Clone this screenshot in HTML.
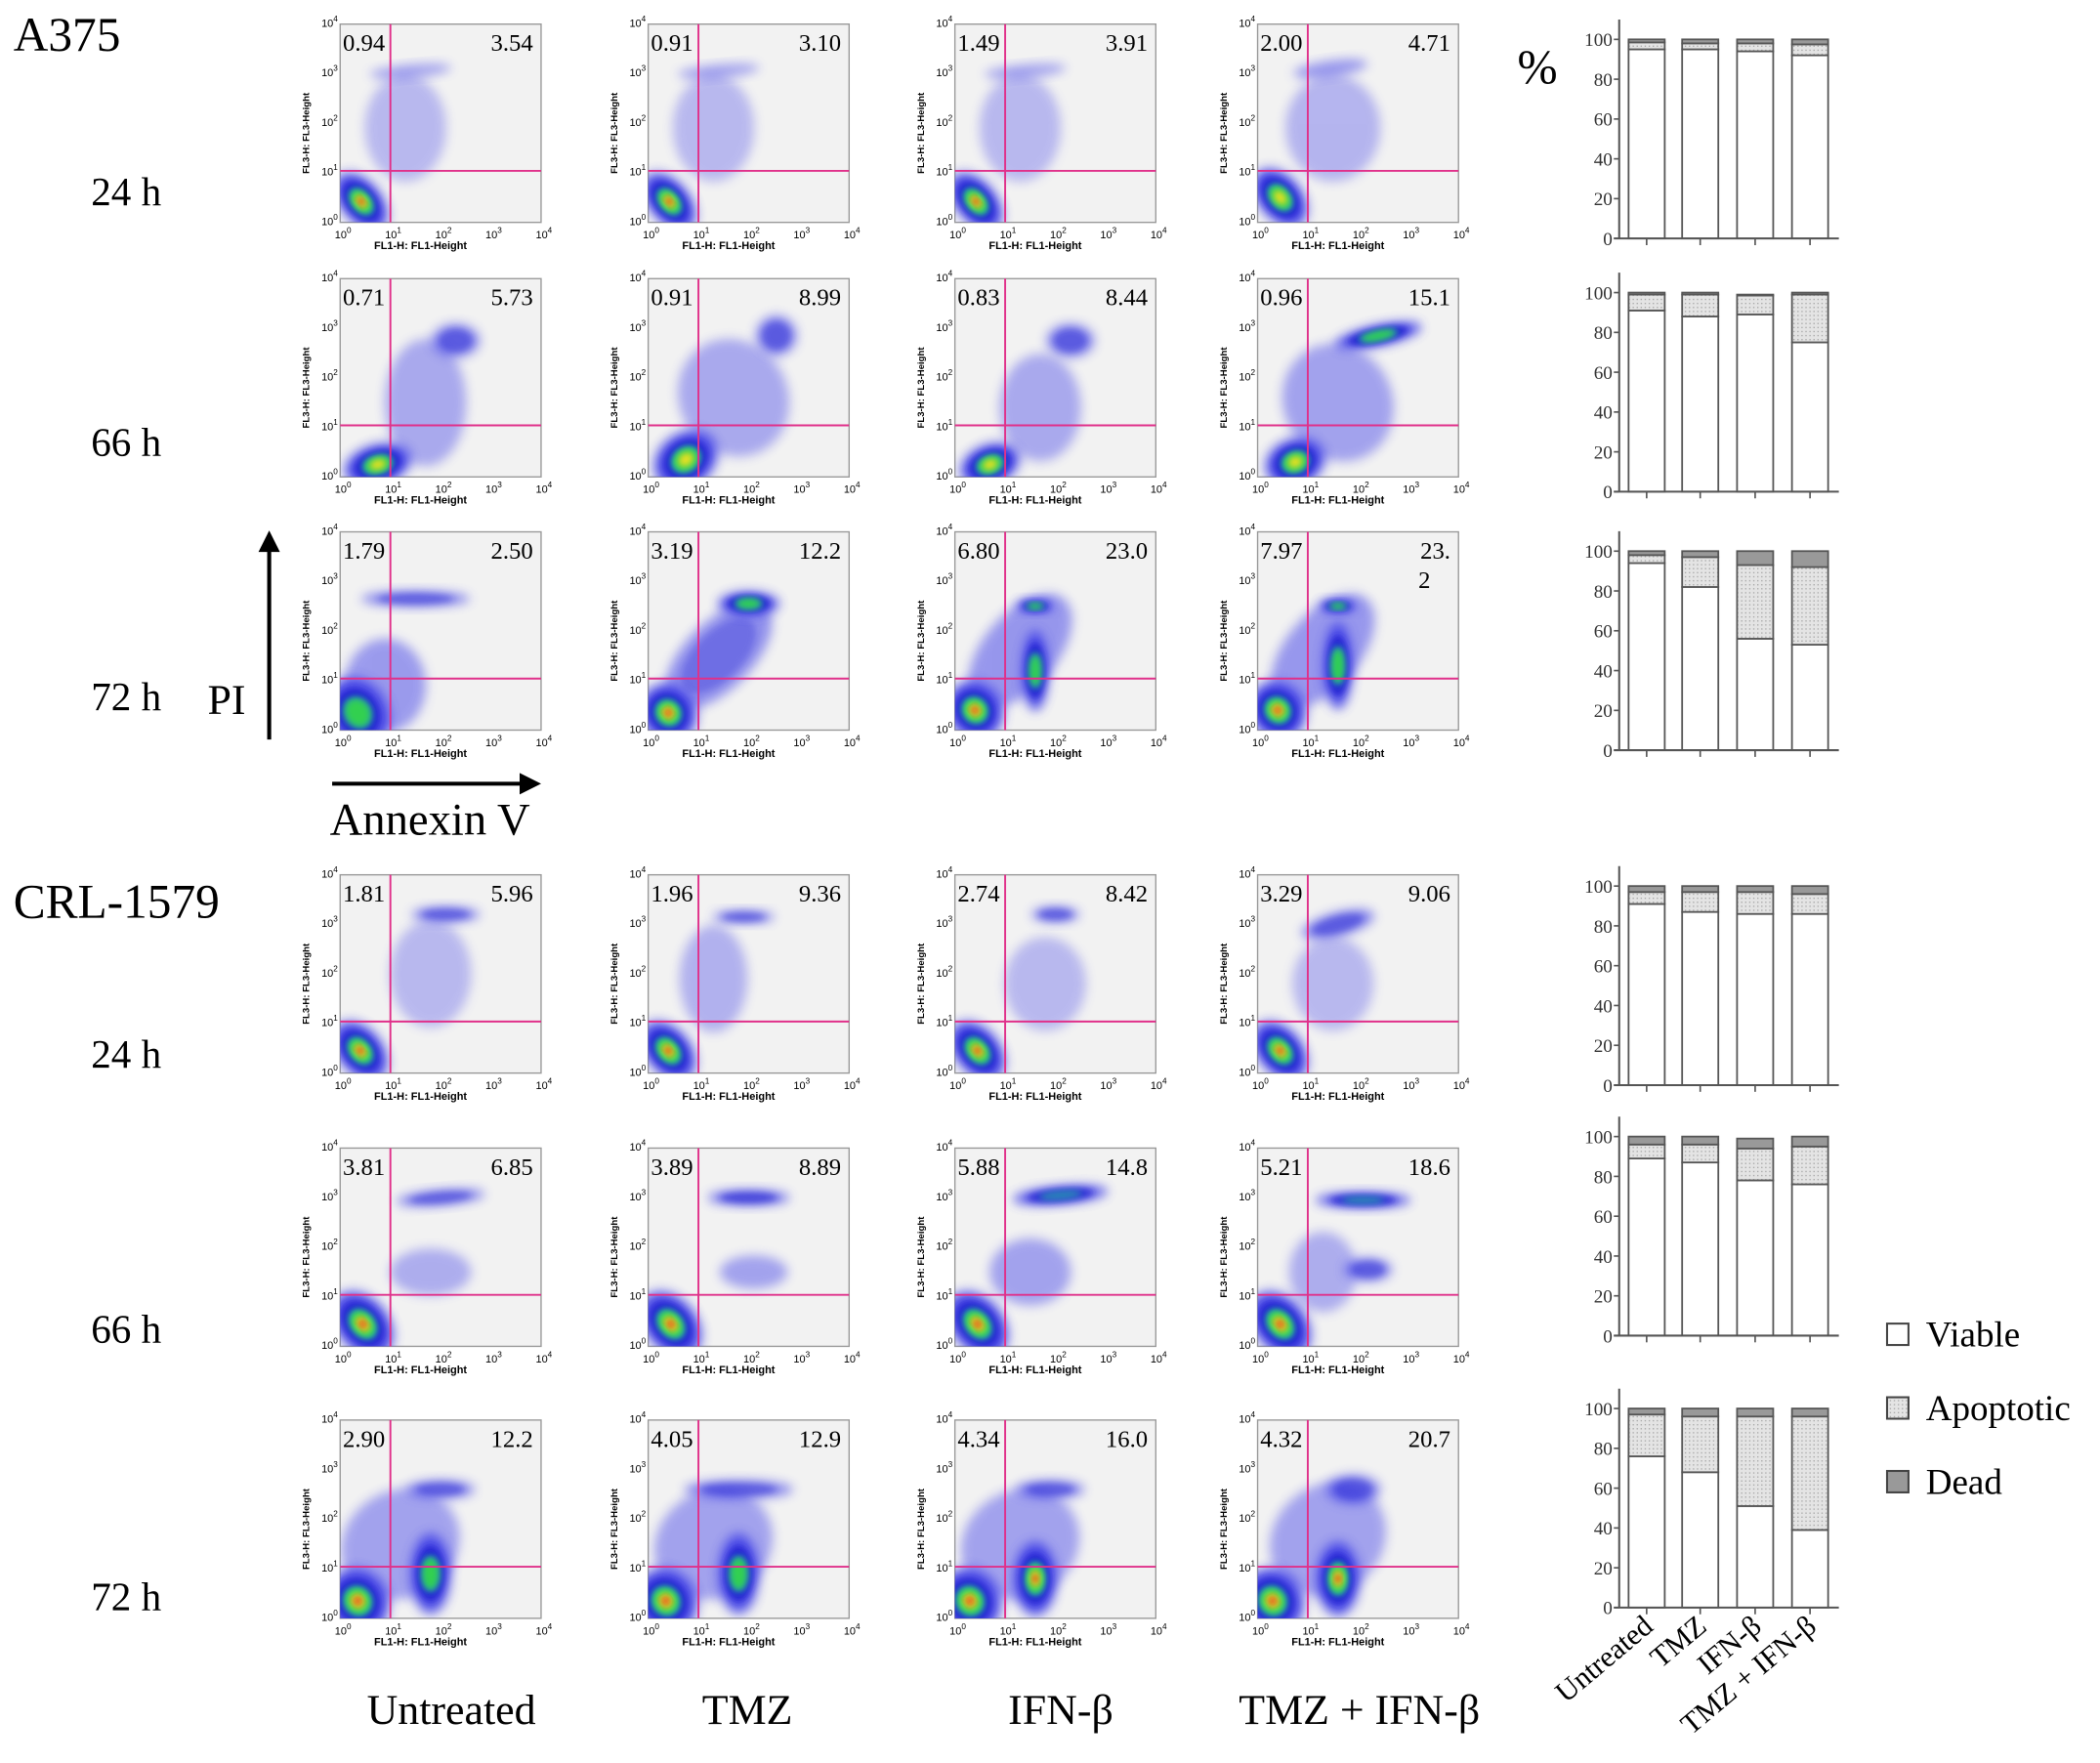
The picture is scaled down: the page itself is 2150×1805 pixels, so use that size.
<!DOCTYPE html>
<html><head><meta charset="utf-8"><style>
html,body{margin:0;padding:0;background:#fff;}
svg{display:block;}
text{font-family:"Liberation Serif",serif;}
.sans{font-family:"Liberation Sans",sans-serif;}
</style></head><body>
<svg id="fig" width="2150" height="1805" viewBox="0 0 1568 1316" preserveAspectRatio="none" xmlns="http://www.w3.org/2000/svg">
<defs>
<filter id="blur" x="-50%" y="-50%" width="200%" height="200%"><feGaussianBlur stdDeviation="2.5"/></filter>
<filter id="blur2" x="-50%" y="-50%" width="200%" height="200%"><feGaussianBlur stdDeviation="4"/></filter>
<pattern id="dots" width="3" height="3" patternUnits="userSpaceOnUse"><rect width="3" height="3" fill="#e4e4e4"/><rect x="1" y="1" width="1" height="1" fill="#aaa"/></pattern>
<clipPath id="clipA"><rect x="0" y="0" width="150" height="148"/></clipPath>
</defs>
<g id="labels">
<text x="10" y="38" font-size="36">A375</text>
<text x="68" y="153" font-size="30">24 h</text>
<text x="68" y="340" font-size="30">66 h</text>
<text x="68" y="530" font-size="30">72 h</text>
<text x="155" y="533" font-size="32">PI</text>
<g><line x1="201" y1="552" x2="201" y2="408" stroke="#000" stroke-width="3"/><polygon points="201,396 193,412 209,412" fill="#000"/></g>
<g><line x1="248" y1="585" x2="392" y2="585" stroke="#000" stroke-width="3"/><polygon points="404,585 388,577 388,593" fill="#000"/></g>
<text x="321" y="623" font-size="34" text-anchor="middle">Annexin V</text>
<text x="10" y="685" font-size="36">CRL-1579</text>
<text x="68" y="797" font-size="30">24 h</text>
<text x="68" y="1002" font-size="30">66 h</text>
<text x="68" y="1202" font-size="30">72 h</text>
<text x="337" y="1287" font-size="32" text-anchor="middle">Untreated</text>
<text x="558" y="1287" font-size="32" text-anchor="middle">TMZ</text>
<text x="792" y="1287" font-size="32" text-anchor="middle">IFN-β</text>
<text x="1015" y="1287" font-size="32" text-anchor="middle">TMZ + IFN-β</text>
<text x="1133" y="62" font-size="36">%</text>
<g>
<rect x="1409" y="988" width="16" height="16" fill="#fff" stroke="#444" stroke-width="1.5"/>
<text x="1438" y="1005" font-size="27">Viable</text>
<rect x="1409" y="1043" width="16" height="16" fill="url(#dots)" stroke="#444" stroke-width="1.5"/>
<text x="1438" y="1060" font-size="27">Apoptotic</text>
<rect x="1409" y="1098" width="16" height="16" fill="#999" stroke="#444" stroke-width="1.5"/>
<text x="1438" y="1115" font-size="27">Dead</text>
</g>
</g>
<g id="plots"></g>
<g id="bars"></g>
</svg>
<script>
const rowTops = [18, 208, 397, 653, 857, 1060];
const colLefts = [254, 484, 713, 939];
const rowNames = ['a375-24h','a375-66h','a375-72h','crl-24h','crl-66h','crl-72h'];
const colNames = ['untreated','tmz','ifn','tmz-ifn'];
const ulValues = [['0.94','0.91','1.49','2.00'],['0.71','0.91','0.83','0.96'],['1.79','3.19','6.80','7.97'],['1.81','1.96','2.74','3.29'],['3.81','3.89','5.88','5.21'],['2.90','4.05','4.34','4.32']];
const urValues = [['3.54','3.10','3.91','4.71'],['5.73','8.99','8.44','15.1'],['2.50','12.2','23.0','23.'],['5.96','9.36','8.42','9.06'],['6.85','8.89','14.8','18.6'],['12.2','12.9','16.0','20.7']];
// clusters: [logX, logY, spreadX, spreadY, angleDeg, level]
const cl24A = [[0.42,0.42,0.3,0.5,-40,4],[1.4,3.05,0.6,0.1,-5,1],[1.3,1.9,0.6,0.8,0,0.4]];
const clusters = [
 [cl24A,cl24A,cl24A,[[0.45,0.5,0.32,0.5,-40,3.5],[1.45,3.1,0.55,0.12,-8,1.3],[1.5,1.9,0.7,0.8,0,0.5]]],
 [[[0.75,0.25,0.5,0.3,-15,3.5],[2.3,2.75,0.35,0.25,0,1.8],[1.7,1.5,0.6,0.95,0,0.8]],
  [[0.75,0.35,0.5,0.4,-35,3.5],[2.55,2.85,0.3,0.3,0,1.8],[1.7,1.6,0.8,0.9,-30,0.8]],
  [[0.7,0.25,0.45,0.3,-20,3.5],[2.3,2.75,0.35,0.25,0,1.8],[1.7,1.4,0.6,0.8,0,0.8]],
  [[0.75,0.3,0.45,0.35,-20,3.5],[2.4,2.85,0.65,0.16,-12,3],[1.6,1.5,0.8,0.9,-30,1]]],
 [[[0.35,0.35,0.45,0.55,-30,3],[1.5,2.65,0.8,0.12,0,1.8],[0.9,0.9,0.6,0.7,0,1.2]],
  [[0.4,0.35,0.4,0.45,-40,4],[1.4,1.5,1.0,0.5,-45,1.5],[2.0,2.55,0.45,0.18,0,3]],
  [[0.4,0.4,0.4,0.45,-40,4],[1.3,1.6,1.0,0.55,-50,1.3],[1.6,1.2,0.2,0.6,0,3],[1.6,2.5,0.28,0.1,0,3]],
  [[0.4,0.4,0.4,0.45,-40,4],[1.3,1.6,1.0,0.55,-50,1.3],[1.6,1.3,0.22,0.65,0,3],[1.6,2.5,0.28,0.1,0,3]]],
 [[[0.4,0.45,0.33,0.5,-40,4],[2.1,3.2,0.5,0.12,0,1.8],[1.8,2.0,0.6,0.8,0,0.4]],
  [[0.4,0.45,0.33,0.5,-40,4],[1.9,3.15,0.45,0.1,0,1.8],[1.3,1.9,0.5,0.8,0,0.6]],
  [[0.45,0.45,0.33,0.5,-40,4],[2.0,3.2,0.35,0.12,0,1.8],[1.8,1.8,0.6,0.7,0,0.4]],
  [[0.45,0.45,0.33,0.5,-40,4],[1.6,3.0,0.55,0.18,-15,1.8],[1.5,1.8,0.6,0.7,0,0.4]]],
 [[[0.45,0.45,0.38,0.55,-40,4],[2.0,3.0,0.65,0.12,-5,1.8],[1.8,1.5,0.6,0.35,0,0.7]],
  [[0.45,0.45,0.38,0.55,-40,4],[2.0,3.0,0.6,0.12,0,2.2],[2.1,1.5,0.5,0.25,0,1]],
  [[0.45,0.45,0.38,0.55,-40,4],[2.1,3.05,0.7,0.14,-5,2.8],[1.5,1.5,0.6,0.5,0,1]],
  [[0.45,0.45,0.38,0.55,-40,4],[2.1,2.95,0.7,0.12,0,2.8],[2.2,1.55,0.35,0.18,0,1.8],[1.3,1.5,0.5,0.6,0,0.7]]],
 [[[0.35,0.35,0.45,0.5,-35,4],[1.8,0.9,0.3,0.6,0,3],[2.0,2.6,0.5,0.14,0,1.8],[1.2,1.5,0.9,0.8,-30,1]],
  [[0.35,0.35,0.45,0.5,-35,4],[1.8,0.9,0.3,0.6,0,3],[1.8,2.6,0.8,0.14,0,1.8],[1.3,1.5,0.9,0.8,-30,1]],
  [[0.3,0.35,0.45,0.5,-30,4],[1.6,0.8,0.32,0.55,0,4],[1.9,2.6,0.5,0.14,0,1.8],[1.3,1.5,0.9,0.8,-30,1]],
  [[0.3,0.35,0.45,0.5,-30,4],[1.6,0.8,0.32,0.55,0,4],[1.9,2.6,0.4,0.22,0,1.8],[1.4,1.6,0.9,0.8,-40,1]]]
];
const tickLabels = ['0','1','2','3','4'];
const W = 150, H = 148, NS = 'http://www.w3.org/2000/svg';
function mk(tag, attrs, parent){const e=document.createElementNS(NS,tag);for(const k in attrs)e.setAttribute(k,attrs[k]);parent.appendChild(e);return e;}
const plots = document.getElementById('plots');
rowTops.forEach((top, r) => {
  colLefts.forEach((left, c) => {
    const g = mk('g', {}, plots);
    
    
    const bottom = top + H;
    const sx = v => left + v / 4 * W, sy = v => bottom - v / 4 * H;
    mk('rect', {x:left, y:top, width:W, height:H, fill:'#f2f2f2', stroke:'#999', 'stroke-width':1}, g);
    const cid = 'c' + r + '_' + c;
    const cp = mk('clipPath', {id: cid}, g);
    mk('rect', {x:left, y:top, width:W, height:H}, cp);
    const cg = mk('g', {'clip-path': 'url(#' + cid + ')'}, g);
    const sorted = clusters[r][c].slice().sort((a, b) => a[5] - b[5]);
    sorted.forEach(k => {
      const [x, y, ex, ey, ang, lv] = k;
      const cx = sx(x), cy = sy(y), rx = ex / 4 * W * 1.35, ry = ey / 4 * H * 1.35;
      const tr = 'rotate(' + ang + ' ' + cx + ' ' + cy + ')';
      const op = Math.min(0.95, 0.25 + lv * 0.22);
      mk('ellipse', {cx, cy, rx, ry, fill:'#4a4ae8', opacity: op, transform: tr, filter:'url(#blur2)'}, cg);
      if (lv >= 1.5) mk('ellipse', {cx, cy, rx: rx*0.7, ry: ry*0.7, fill:'#2020d0', opacity: Math.min(0.9, 0.3 + (lv - 1.5) * 0.4), transform: tr, filter:'url(#blur)'}, cg);
      if (lv >= 2.5) mk('ellipse', {cx, cy, rx: rx*0.45, ry: ry*0.45, fill:'#20c8a0', opacity: Math.min(1, (lv - 2.2)), transform: tr, filter:'url(#blur)'}, cg);
      if (lv >= 3) mk('ellipse', {cx, cy, rx: rx*0.38, ry: ry*0.38, fill:'#30d050', transform: tr, filter:'url(#blur)'}, cg);
      if (lv >= 3.5) mk('ellipse', {cx, cy, rx: rx*0.24, ry: ry*0.24, fill:'#e8e020', transform: tr, filter:'url(#blur)'}, cg);
      if (lv >= 4) mk('ellipse', {cx, cy, rx: rx*0.12, ry: ry*0.12, fill:'#e02020', transform: tr, filter:'url(#blur)'}, cg);
    });
    const gx = mk('line', {x1:sx(1), x2:sx(1), y1:top, y2:bottom, stroke:'#e0308a', 'stroke-width':1.4}, g);
    
    
    const gy = mk('line', {x1:left, x2:left+W, y1:sy(1.04), y2:sy(1.04), stroke:'#e0308a', 'stroke-width':1.4}, g);
    
    
    const ul = mk('text', {x:left+2, y:top+20, 'font-size':18}, g); ul.textContent = ulValues[r][c];
    
    
    const ur = mk('text', {x:left+W-6, y:top+20, 'font-size':18, 'text-anchor':'end'}, g); ur.textContent = urValues[r][c];
    
    
    if (r === 2 && c === 3) { const t2 = mk('text', {x:left+W-30, y:top+42, 'font-size':18}, g); t2.textContent = '2';
      
       }
    tickLabels.forEach((t, i) => {
      const a = mk('text', {x:sx(i)-4, y:bottom+12, 'font-size':8, class:'sans'}, g);
      a.innerHTML = '10<tspan dy="-4" font-size="6">' + t + '</tspan>';
      
      
      const b = mk('text', {x:left-14, y:sy(i)+2, 'font-size':8, class:'sans'}, g);
      b.innerHTML = '10<tspan dy="-4" font-size="6">' + t + '</tspan>';
      
      
    });
    const xl = mk('text', {x:left+W*0.4, y:bottom+20, 'font-size':8, 'font-weight':'bold', 'text-anchor':'middle', class:'sans'}, g);
    xl.textContent = 'FL1-H: FL1-Height';
    
    
    const yl = mk('text', {x:0, y:0, 'font-size':7, 'font-weight':'bold', 'text-anchor':'middle', class:'sans', transform:'translate(' + (left-23) + ',' + (top+H*0.55) + ') rotate(-90)'}, g);
    yl.textContent = 'FL3-H: FL3-Height';
    
    
  });
});

const barCategories = ['Untreated', 'TMZ', 'IFN-β', 'TMZ + IFN-β'];
const viable = [[95,95,94,92],[91,88,89,75],[94,82,56,53],[91,87,86,86],[89,87,78,76],[76,68,51,39]];
const apoptotic = [[3.5,3,4,5.5],[8,11,9.5,24],[4,15,37,39],[6,10,11,10],[7,9,16,19],[21,28,45,57]];
const dead = [[1.5,2,2,2.5],[1,1,0.5,1],[2,3,7,8],[3,3,3,4],[4,4,5,5],[3,4,4,4]];
const yTicks = [0, 20, 40, 60, 80, 100];
const chartBottoms = [178, 367, 560, 810, 997, 1200];
const axisX = 1209, barLefts = [1216, 1256, 1297, 1338], barW = 27, unit = 1.486;
const bars = document.getElementById('bars');
chartBottoms.forEach((b0, ci) => {
  const g = mk('g', {}, bars);
  
  
  const ys = v => b0 - v * unit;
  barCategories.forEach((cat, i) => {
    const x = barLefts[i];
    const v = viable[ci][i], a = apoptotic[ci][i], d = dead[ci][i];
    const segs = [[0, v, '#fff', 'viable'], [v, v + a, 'url(#dots)', 'apoptotic'], [v + a, v + a + d, '#999', 'dead']];
    segs.forEach(s => {
      const rct = mk('rect', {x, y: ys(s[1]), width: barW, height: ys(s[0]) - ys(s[1]), fill: s[2], stroke: '#555', 'stroke-width': 1.3}, g);
      
      
    });
    mk('line', {x1: x + barW / 2, x2: x + barW / 2, y1: b0, y2: b0 + 5, stroke: '#555', 'stroke-width': 1.2}, g);
  });
  mk('line', {x1: axisX, x2: axisX, y1: b0, y2: ys(110), stroke: '#555', 'stroke-width': 1.5}, g);
  mk('line', {x1: axisX - 4, x2: 1373, y1: b0, y2: b0, stroke: '#555', 'stroke-width': 1.5}, g);
  yTicks.forEach(t => {
    mk('line', {x1: axisX - 4, x2: axisX, y1: ys(t), y2: ys(t), stroke: '#555', 'stroke-width': 1.2}, g);
    const tl = mk('text', {x: axisX - 5, y: ys(t) + 5, 'font-size': 14, 'text-anchor': 'end', fill: '#333'}, g);
    tl.textContent = t;
    
    
  });
  if (ci === 5) {
    barCategories.forEach((cat, i) => {
      const cx = barLefts[i] + barW / 2 + 6;
      const t = mk('text', {x: cx, y: b0 + 16, 'font-size': 22, 'text-anchor': 'end', transform: 'rotate(-40 ' + cx + ' ' + (b0 + 16) + ')'}, g);
      t.textContent = cat;
      
      
    });
  }
});
</script>
</body></html>
